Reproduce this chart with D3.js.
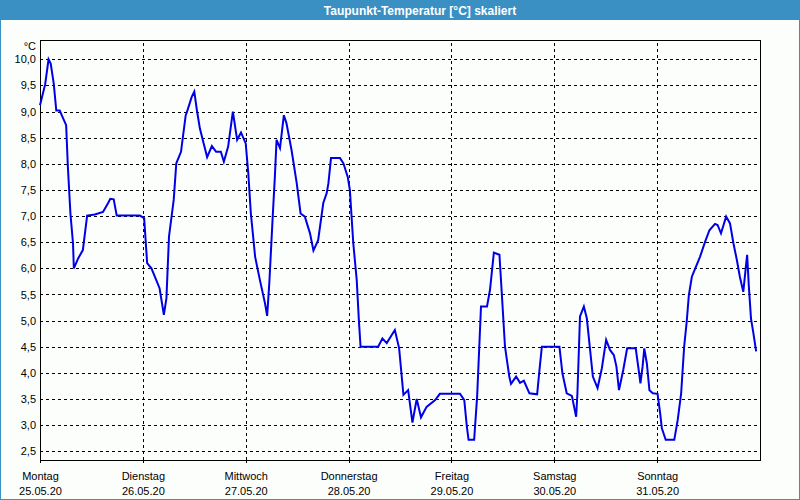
<!DOCTYPE html>
<html><head><meta charset="utf-8">
<script src="https://cdn.jsdelivr.net/npm/d3@7"></script>
<style>
html,body{margin:0;padding:0;background:#fcfefc;}
svg{display:block;}
</style></head>
<body>
<script>
const title = "Taupunkt-Temperatur [°C] skaliert";
const unitLabel = "°C";
const dayNames = ["Montag","Dienstag","Mittwoch","Donnerstag","Freitag","Samstag","Sonntag"];
const dayDates = ["25.05.20","26.05.20","27.05.20","28.05.20","29.05.20","30.05.20","31.05.20"];
const yTicks = [2.5,3.0,3.5,4.0,4.5,5.0,5.5,6.0,6.5,7.0,7.5,8.0,8.5,9.0,9.5,10.0];
// hours since Monday 25.05.20 00:00
const hours = [0.0,1.2,2.0,2.5,3.2,3.8,4.6,5.4,6.1,6.5,7.1,7.7,7.9,8.9,10.0,11.0,12.8,14.7,15.9,16.4,17.2,17.9,23.3,24.3,25.0,26.0,27.9,28.9,29.5,30.1,31.2,31.8,32.9,34.0,
34.2,35.4,36.0,36.6,37.3,38.1,39.0,40.1,41.1,42.2,42.9,43.9,45.0,46.0,46.9,48.0,48.6,49.2,50.2,51.3,52.5,53.0,53.5,54.3,54.8,55.2,56.0,56.9,57.5,58.7,59.9,60.8,61.8,63.0,63.8,64.9,66.1,66.9,67.3,67.9,70.0,70.8,71.8,72.3,73.1,73.9,74.4,74.8,
78.9,79.9,80.9,82.8,83.8,84.8,85.9,86.9,87.9,88.9,90.2,92.2,93.3,98.0,99.0,99.6,100.0,101.3,102.0,102.9,104.3,105.0,105.9,107.2,107.7,108.5,109.5,109.9,111.1,112.0,112.9,114.2,116.0,116.5,117.1,
121.2,121.9,122.9,124.1,125.1,125.4,126.0,126.9,127.6,129.0,130.1,131.1,132.1,133.0,133.9,134.5,135.1,136.1,137.0,139.0,139.8,140.1,140.6,141.0,141.6,142.2,143.0,144.1,144.7,145.1,146.0,148.0,148.8,149.6,150.3,150.9,151.4,152.1,152.8,154.0,155.2,156.2,157.5,158.1,158.9,159.5,160.1,161.0,161.8,162.6,163.3,164.1,164.7,165.0,165.4,165.9,166.4,167.1];
const dewpoint = [9.12,9.52,10.0,9.92,9.54,9.02,9.02,8.87,8.74,7.95,7.05,6.48,6.0,6.19,6.35,7.01,7.03,7.08,7.25,7.33,7.32,7.01,7.01,6.96,6.10,6.0,5.62,5.11,5.43,6.61,7.31,8.01,8.23,8.93,
8.97,9.28,9.38,9.03,8.68,8.42,8.13,8.34,8.23,8.23,8.04,8.33,9.0,8.46,8.60,8.39,7.82,7.05,6.22,5.78,5.33,5.09,5.71,6.99,7.75,8.46,8.30,8.93,8.78,8.26,7.63,7.05,6.99,6.67,6.34,6.54,7.25,7.44,7.63,8.11,8.11,8.01,7.75,7.50,6.48,5.78,5.01,4.50,
4.50,4.66,4.57,4.82,4.47,3.58,3.67,3.05,3.50,3.15,3.35,3.48,3.60,3.60,3.48,2.97,2.72,2.72,3.55,5.27,5.27,5.59,6.30,6.26,5.59,4.50,3.93,3.79,3.93,3.81,3.85,3.61,3.59,4.02,4.50,
4.50,3.99,3.61,3.56,3.16,3.61,5.08,5.27,5.04,3.93,3.71,4.09,4.63,4.44,4.34,4.12,3.67,4.06,4.47,4.47,3.99,3.80,4.12,4.47,4.18,3.67,3.61,3.60,3.23,2.94,2.72,2.72,3.10,3.61,4.50,4.98,5.49,5.84,5.98,6.22,6.51,6.73,6.85,6.83,6.67,6.83,6.99,6.86,6.48,6.16,5.84,5.55,6.03,6.26,5.65,5.04,4.79,4.41];

(function() {
const W = 800, H = 500;
const pL = 40, pR = 760, pT = 40, pB = 460;
const start = new Date(2020, 4, 25, 0, 0);
const end = new Date(2020, 5, 1, 0, 0);
const toDate = h => new Date(start.getTime() + h * 3600000);

const svg = d3.select("body").append("svg").attr("width", W).attr("height", H);
svg.append("rect").attr("x",0).attr("y",0).attr("width",W).attr("height",H).attr("fill","#fcfefc");
svg.append("rect").attr("x",0.5).attr("y",0.5).attr("width",W-1).attr("height",H-1)
  .attr("fill","none").attr("stroke","#3a8fc3").attr("stroke-width",1);
svg.append("rect").attr("x",0).attr("y",0).attr("width",W).attr("height",20).attr("fill","#3a8fc3");
svg.append("text").attr("x",420).attr("y",14.5).attr("text-anchor","middle")
  .attr("fill","#fff").attr("font-family","'Liberation Sans', Arial, sans-serif")
  .attr("font-weight","bold").attr("font-size","12px").text(title);

const x = d3.scaleTime().domain([start, end]).range([pL, pR]);
const y = d3.scaleLinear().domain([10 + 19.3/52.27, 2.5 - 8.7/52.27]).range([pT, pB]);

const font = "'Liberation Sans', Arial, sans-serif";

const yGrid = svg.append("g").attr("transform", `translate(${pL},0)`)
  .call(d3.axisLeft(y).tickValues(yTicks).tickSize(-(pR-pL)).tickFormat(""));
yGrid.select(".domain").remove();
yGrid.selectAll("line").attr("stroke","#000").attr("stroke-dasharray","3,3").attr("shape-rendering","crispEdges");

const dayTicks = d3.range(7).map(i => new Date(2020, 4, 25 + i));
const xGrid = svg.append("g").attr("transform", `translate(0,${pB})`)
  .call(d3.axisBottom(x).tickValues(dayTicks.slice(1)).tickSize(-(pB-pT)).tickFormat(""));
xGrid.select(".domain").remove();
xGrid.selectAll("line").attr("stroke","#000").attr("stroke-dasharray","3,3").attr("shape-rendering","crispEdges");

const yAxis = svg.append("g").attr("transform", `translate(${pL},0)`)
  .call(d3.axisLeft(y).tickValues(yTicks).tickSize(0).tickPadding(4)
    .tickFormat(d => d3.format(".1f")(d).replace(".", ",")));
yAxis.select(".domain").remove();
yAxis.selectAll("text").attr("font-family", font).attr("font-size","11px").attr("fill","#000");

svg.append("text").attr("x", 36).attr("y", 49.5).attr("text-anchor","end")
  .attr("font-family", font).attr("font-size","11px").attr("fill","#000").text(unitLabel);

const xAxis = svg.append("g").attr("transform", `translate(0,${pB})`)
  .call(d3.axisBottom(x).tickValues(dayTicks).tickSize(3).tickFormat(""));
xAxis.select(".domain").remove();
xAxis.selectAll("line").attr("stroke","#000").attr("shape-rendering","crispEdges");
xAxis.selectAll(".tick").each(function(d, i) {
  const t = d3.select(this).append("text").attr("fill","#000")
    .attr("font-family", font).attr("font-size","11px").attr("text-anchor","middle");
  t.append("tspan").attr("x",0).attr("y",19.5).text(dayNames[i]);
  t.append("tspan").attr("x",0).attr("y",34.5).text(dayDates[i]);
});

svg.append("rect").attr("x",pL+0.5).attr("y",pT+0.5).attr("width",pR-pL).attr("height",pB-pT)
  .attr("fill","none").attr("stroke","#000").attr("stroke-width",1).attr("shape-rendering","crispEdges");

const line = d3.line().x((d,i) => x(toDate(hours[i]))).y((d,i) => y(dewpoint[i]));
svg.append("path").datum(dewpoint).attr("d", line).attr("fill","none")
  .attr("stroke","#0000e6").attr("stroke-width",2).attr("stroke-linejoin","miter");
})();
</script>
</body></html>
